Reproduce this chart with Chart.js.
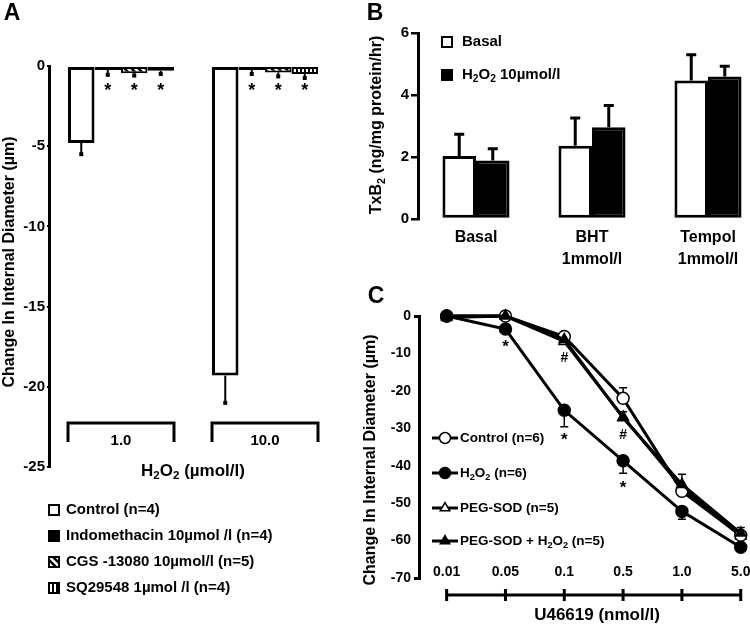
<!DOCTYPE html>
<html>
<head>
<meta charset="utf-8">
<script src="https://cdn.jsdelivr.net/npm/chart.js@4.4.0/dist/chart.umd.min.js"></script>
<style>
    html, body { margin: 0; padding: 0; background: #fff; overflow: hidden; width: 750px; height: 625px; }
    body { position: relative; }
    canvas { position: absolute; }
    #chartA { left: 0; top: 0; }
    #chartB { left: 355px; top: 0; }
    #chartC { left: 355px; top: 280px; }
</style>
</head>
<body>
<canvas id="chartA" width="380" height="625"></canvas>
<canvas id="chartB" width="420" height="290"></canvas>
<canvas id="chartC" width="395" height="345"></canvas>
<script>
// ---- Panel A data ----
const groupsA = ['1.0', '10.0'];
const labelsA = ['Control (n=4)', 'Indomethacin 10µmol /l (n=4)', 'CGS -13080 10µmol/l (n=5)', 'SQ29548 1µmol /l (n=4)'];
const controlA = [-4.8, -19.3];
const indoA = [-0.25, -0.25];
const cgsA = [-0.45, -0.4];
const sqA = [-0.3, -0.5];
const controlAErr = [-5.5, -21];
const indoAErr = [-0.55, -0.5];
const cgsAErr = [-0.6, -0.65];
const sqAErr = [-0.5, -0.75];
const starSetsA = [1, 2, 3];   // datasets marked with *
const starLevelA = -1.4;

// ---- Panel B data ----
const groupsB = [['Basal'], ['BHT', '1mmol/l'], ['Tempol', '1mmol/l']];
const labelsB = ['Basal', 'H₂O₂ 10µmol/l'];
const basalB = [2.03, 2.36, 4.47];
const h2o2B = [1.89, 2.96, 4.6];
const basalBErr = [2.73, 3.26, 5.3];
const h2o2BErr = [2.27, 3.66, 4.93];

// ---- Panel C data ----
const dosesC = ['0.01', '0.05', '0.1', '0.5', '1.0', '5.0'];
const labelsC = ['Control (n=6)', 'H₂O₂ (n=6)', 'PEG-SOD (n=5)', 'PEG-SOD + H₂O₂ (n=5)'];
const controlC = [0, 0, -5.5, -22, -46.8, -58.6];
const h2o2C = [0, -3.5, -25.2, -38.7, -52.2, -61.8];
const pegC = [0, 0, -6.8, -27, -45.8, -58.8];
const pegH2o2C = [-0.4, 0, -6.3, -27.2, -45, -58];
const controlCErr = [null, null, null, -19.2, null, null];
const h2o2CErr = [null, null, -29.6, -42, -54.3, null];
const pegCErr = [null, null, null, null, null, -56.5];
const pegH2o2CErr = [null, null, null, -25.6, -42.3, null];
const marksC = [
    { x: 1, y: -7.3, t: '*' }, { x: 2, y: -32, t: '*' }, { x: 3, y: -45, t: '*' },
    { x: 2, y: -11, t: '#' }, { x: 3, y: -31.6, t: '#' }
];

const FONT = 'Arial, "Liberation Sans", Helvetica, sans-serif';
function font(size) { return 'bold ' + size + 'px ' + FONT; }

// text with ₂ drawn as a real subscript
function richText(ctx, str, x, y, size, align) {
    const parts = str.split(/(₂)/).filter(s => s);
    ctx.save();
    ctx.textBaseline = 'middle';
    ctx.textAlign = 'left';
    ctx.fillStyle = '#000';
    let total = 0;
    parts.forEach(p => {
        ctx.font = font(p === '₂' ? size * 0.68 : size);
        total += ctx.measureText(p === '₂' ? '2' : p).width;
    });
    let cx = align === 'center' ? x - total / 2 : x;
    parts.forEach(p => {
        const sub = p === '₂';
        const t = sub ? '2' : p;
        ctx.font = font(sub ? size * 0.68 : size);
        ctx.fillText(t, cx, sub ? y + size * 0.3 : y);
        cx += ctx.measureText(t).width;
    });
    ctx.restore();
}

function rotatedText(ctx, str, x, y, size) {
    ctx.save();
    ctx.translate(x, y);
    ctx.rotate(-Math.PI / 2);
    richText(ctx, str, 0, 0, size, 'center');
    ctx.restore();
}

function panelLetter(ctx, letter, x, y) {
    ctx.save();
    ctx.font = font(23);
    ctx.fillStyle = '#000';
    ctx.textAlign = 'center';
    ctx.textBaseline = 'middle';
    ctx.fillText(letter, x, y);
    ctx.restore();
}

function makePattern(kind) {
    const c = document.createElement('canvas');
    c.width = 7; c.height = 7;
    const g = c.getContext('2d');
    g.fillStyle = '#fff';
    g.fillRect(0, 0, 7, 7);
    g.fillStyle = '#000';
    g.strokeStyle = '#000';
    if (kind === 'vert') {
        c.width = 4; c.height = 4;
        g.fillStyle = '#fff'; g.fillRect(0, 0, 4, 4);
        g.fillStyle = '#000'; g.fillRect(0, 0, 2, 4);
    } else {
        g.lineWidth = 2.5;
        g.beginPath();
        g.moveTo(-1, -1); g.lineTo(8, 8);
        g.moveTo(-4, 3); g.lineTo(4, 11);
        g.moveTo(3, -4); g.lineTo(11, 4);
        g.stroke();
    }
    return document.getElementById('chartA').getContext('2d').createPattern(c, 'repeat');
}

const diagPattern = makePattern('diag');
const vertPattern = makePattern('vert');

// ---------------- Panel A ----------------
const errA = [controlAErr, indoAErr, cgsAErr, sqAErr];

const panelAPlugin = {
    id: 'panelA',
    afterDatasetsDraw(chart) {
        const ctx = chart.ctx, ys = chart.scales.y;
        ctx.save();
        ctx.strokeStyle = '#000';
        ctx.fillStyle = '#000';
        ctx.lineWidth = 2;
        errA.forEach((errs, di) => {
            chart.getDatasetMeta(di).data.forEach((bar, j) => {
                const yEnd = ys.getPixelForValue(errs[j]);
                ctx.beginPath();
                ctx.moveTo(bar.x, bar.y);
                ctx.lineTo(bar.x, yEnd);
                ctx.stroke();
                ctx.fillRect(bar.x - 2, yEnd - 2, 4, 4);
            });
        });
        ctx.font = font(18);
        ctx.textAlign = 'center';
        ctx.textBaseline = 'alphabetic';
        starSetsA.forEach(di => {
            chart.getDatasetMeta(di).data.forEach(bar => {
                ctx.fillText('*', bar.x, ys.getPixelForValue(starLevelA) + 8);
            });
        });
        ctx.restore();
    },
    afterDraw(chart) {
        const ctx = chart.ctx, area = chart.chartArea;
        const first = chart.getDatasetMeta(0).data;
        const last = chart.getDatasetMeta(3).data;
        ctx.save();
        ctx.strokeStyle = '#000';
        ctx.lineWidth = 3;
        const top = area.bottom - 44, bot = area.bottom - 25;
        groupsA.forEach((g, j) => {
            const l = first[j].x - first[j].width / 2;
            const r = last[j].x + last[j].width / 2;
            ctx.beginPath();
            ctx.moveTo(l, bot); ctx.lineTo(l, top); ctx.lineTo(r, top); ctx.lineTo(r, bot);
            ctx.stroke();
            richText(ctx, g, (l + r) / 2, bot - 1, 15, 'center');
        });
        richText(ctx, 'H₂O₂ (µmol/l)', 193, 471, 17, 'center');
        rotatedText(ctx, 'Change In Internal Diameter (µm)', 10, 262, 16);
        panelLetter(ctx, 'A', 12, 14);
        // legend
        chart.data.datasets.forEach((ds, i) => {
            const cy = 510 + i * 26;
            ctx.fillStyle = ds.backgroundColor;
            ctx.fillRect(48, cy - 6, 12, 12);
            ctx.lineWidth = 2;
            ctx.strokeRect(49, cy - 5, 10, 10);
            richText(ctx, ds.label, 66, cy, 15, 'left');
        });
        ctx.restore();
    }
};

new Chart(document.getElementById('chartA'), {
    type: 'bar',
    data: {
        labels: groupsA,
        datasets: [
            { label: labelsA[0], data: controlA, backgroundColor: '#fff', borderColor: '#000', borderWidth: 3, borderSkipped: false },
            { label: labelsA[1], data: indoA, backgroundColor: '#000', borderColor: '#000', borderWidth: 2, borderSkipped: false },
            { label: labelsA[2], data: cgsA, backgroundColor: diagPattern, borderColor: '#000', borderWidth: 2, borderSkipped: false },
            { label: labelsA[3], data: sqA, backgroundColor: vertPattern, borderColor: '#000', borderWidth: 2, borderSkipped: false }
        ]
    },
    options: {
        responsive: false,
        animation: false,
        layout: { padding: { left: 0, right: 43, top: 66, bottom: 158 } },
        datasets: { bar: { categoryPercentage: 0.736, barPercentage: 1 } },
        scales: {
            x: { display: false },
            y: {
                min: -25, max: 0,
                ticks: { stepSize: 5, color: '#000', font: { family: FONT, size: 15, weight: 'bold' }, padding: 2 },
                grid: { drawOnChartArea: false, tickLength: 2, color: '#000', lineWidth: 2 },
                border: { color: '#000', width: 3 },
                afterFit: s => { s.width = 49; }
            }
        },
        plugins: { legend: { display: false }, tooltip: { enabled: false } }
    },
    plugins: [panelAPlugin]
});

// ---------------- Panel B ----------------
const errB = [basalBErr, h2o2BErr];

const panelBPlugin = {
    id: 'panelB',
    afterDatasetsDraw(chart) {
        const ctx = chart.ctx, ys = chart.scales.y;
        ctx.save();
        ctx.strokeStyle = '#000';
        ctx.lineWidth = 3;
        errB.forEach((errs, di) => {
            chart.getDatasetMeta(di).data.forEach((bar, j) => {
                const yEnd = ys.getPixelForValue(errs[j]);
                ctx.beginPath();
                ctx.moveTo(bar.x, bar.y);
                ctx.lineTo(bar.x, yEnd);
                ctx.moveTo(bar.x - 5, yEnd);
                ctx.lineTo(bar.x + 5, yEnd);
                ctx.stroke();
            });
        });
        ctx.restore();
    },
    afterDraw(chart) {
        const ctx = chart.ctx;
        ctx.save();
        chart.data.datasets.forEach((ds, i) => {
            const cy = 42 + i * 33;
            ctx.fillStyle = ds.backgroundColor;
            ctx.fillRect(86, cy - 6, 12, 12);
            ctx.strokeStyle = '#000';
            ctx.lineWidth = 2;
            ctx.strokeRect(87, cy - 5, 10, 10);
            richText(ctx, ds.label, 107, cy, 15, 'left');
        });
        rotatedText(ctx, 'TxB₂ (ng/mg protein/hr)', 22, 125, 16);
        panelLetter(ctx, 'B', 20, 14);
        ctx.restore();
    }
};

new Chart(document.getElementById('chartB'), {
    type: 'bar',
    data: {
        labels: groupsB,
        datasets: [
            { label: labelsB[0], data: basalB, backgroundColor: '#fff', borderColor: '#000', borderWidth: 3, borderSkipped: false },
            { label: labelsB[1], data: h2o2B, backgroundColor: '#000', borderColor: '#000', borderWidth: 3, borderSkipped: false }
        ]
    },
    options: {
        responsive: false,
        animation: false,
        layout: { padding: { left: 0, right: 9, top: 33, bottom: 0 } },
        datasets: { bar: { categoryPercentage: 0.578, barPercentage: 1 } },
        scales: {
            x: {
                grid: { display: false, drawTicks: false },
                border: { display: false },
                ticks: { color: '#000', font: { family: FONT, size: 16, weight: 'bold', lineHeight: 1.375 }, padding: 8, maxRotation: 0 },
                afterFit: s => { s.height = 71; }
            },
            y: {
                min: 0, max: 6,
                ticks: { stepSize: 2, color: '#000', font: { family: FONT, size: 15, weight: 'bold' }, padding: 2 },
                grid: { drawOnChartArea: false, tickLength: 7, color: '#000', lineWidth: 2.5 },
                border: { color: '#000', width: 3 },
                afterFit: s => { s.width = 63; }
            }
        },
        plugins: { legend: { display: false }, tooltip: { enabled: false } }
    },
    plugins: [panelBPlugin]
});

// ---------------- Panel C ----------------
const errC = [controlCErr, h2o2CErr, pegCErr, pegH2o2CErr];

const panelCPlugin = {
    id: 'panelC',
    beforeDatasetsDraw(chart) {
        const ctx = chart.ctx, xs = chart.scales.x, ys = chart.scales.y;
        ctx.save();
        ctx.strokeStyle = '#000';
        ctx.lineWidth = 1.5;
        errC.forEach((errs, di) => {
            errs.forEach((e, i) => {
                if (e === null) return;
                const pt = chart.data.datasets[di].data[i];
                const x = xs.getPixelForValue(i);
                const y0 = ys.getPixelForValue(pt.y), y1 = ys.getPixelForValue(e);
                ctx.beginPath();
                ctx.moveTo(x, y0); ctx.lineTo(x, y1);
                ctx.moveTo(x - 4, y1); ctx.lineTo(x + 4, y1);
                ctx.stroke();
            });
        });
        ctx.restore();
    },
    afterDatasetsDraw(chart) {
        const ctx = chart.ctx, xs = chart.scales.x, ys = chart.scales.y;
        ctx.save();
        ctx.fillStyle = '#000';
        ctx.textAlign = 'center';
        ctx.textBaseline = 'alphabetic';
        marksC.forEach(m => {
            ctx.font = font(m.t === '*' ? 17 : 14);
            ctx.fillText(m.t, xs.getPixelForValue(m.x), ys.getPixelForValue(m.y) + (m.t === '*' ? 9 : 5));
        });
        ctx.restore();
    },
    afterDraw(chart) {
        const ctx = chart.ctx, xs = chart.scales.x;
        ctx.save();
        // x axis: labels above a bracket line
        ctx.strokeStyle = '#000';
        ctx.lineWidth = 3;
        ctx.beginPath();
        ctx.moveTo(xs.getPixelForValue(0), 315);
        ctx.lineTo(xs.getPixelForValue(dosesC.length - 1), 315);
        dosesC.forEach((d, i) => {
            const x = xs.getPixelForValue(i);
            ctx.moveTo(x, 309); ctx.lineTo(x, 321);
            richText(ctx, d, x, 292, 14, 'center');
        });
        ctx.stroke();
        richText(ctx, 'U46619 (nmol/l)', 242, 335, 17, 'center');
        rotatedText(ctx, 'Change In Internal Diameter (µm)', 16, 180, 16);
        panelLetter(ctx, 'C', 21, 17);
        // legend
        const rows = [158, 193, 228, 261];
        chart.data.datasets.forEach((ds, i) => {
            const cy = rows[i];
            ctx.strokeStyle = '#000';
            ctx.lineWidth = 3;
            ctx.beginPath();
            ctx.moveTo(77, cy); ctx.lineTo(103, cy);
            ctx.stroke();
            ctx.fillStyle = ds.pointBackgroundColor;
            ctx.lineWidth = 1.5;
            Chart.helpers.drawPoint(ctx, { pointStyle: ds.pointStyle, radius: 5.5, borderWidth: 1.5, rotation: 0 }, 90, cy);
            richText(ctx, ds.label, 105, cy, 13.5, 'left');
        });
        ctx.restore();
    }
};

function seriesC(values) { return values.map((v, i) => ({ x: i, y: v })); }

function lineStyle(label, values, style, fill, order) {
    return {
        label: label,
        data: seriesC(values),
        borderColor: '#000',
        borderWidth: 3,
        pointStyle: style,
        pointRadius: 6,
        pointBackgroundColor: fill,
        pointBorderColor: '#000',
        pointBorderWidth: 1.5,
        clip: false,
        order: order
    };
}

new Chart(document.getElementById('chartC'), {
    type: 'line',
    data: {
        datasets: [
            lineStyle(labelsC[0], controlC, 'circle', '#fff', 2),
            lineStyle(labelsC[1], h2o2C, 'circle', '#000', 0),
            lineStyle(labelsC[2], pegC, 'triangle', '#fff', 3),
            lineStyle(labelsC[3], pegH2o2C, 'triangle', '#000', 1)
        ]
    },
    options: {
        responsive: false,
        animation: false,
        layout: { padding: { left: 0, right: 7, top: 36, bottom: 47 } },
        scales: {
            x: { type: 'linear', min: -0.47, max: 5.03, display: false },
            y: {
                min: -70, max: 0,
                ticks: { stepSize: 10, color: '#000', font: { family: FONT, size: 14, weight: 'bold' }, padding: 3 },
                grid: {
                    drawOnChartArea: false, tickLength: 5, lineWidth: 3,
                    color: c => (c.tick && (c.tick.value === 0 || c.tick.value === -70)) ? '#000' : 'rgba(0,0,0,0)'
                },
                border: { color: '#000', width: 3 },
                afterFit: s => { s.width = 64; }
            }
        },
        plugins: { legend: { display: false }, tooltip: { enabled: false } }
    },
    plugins: [panelCPlugin]
});
</script>
</body>
</html>
